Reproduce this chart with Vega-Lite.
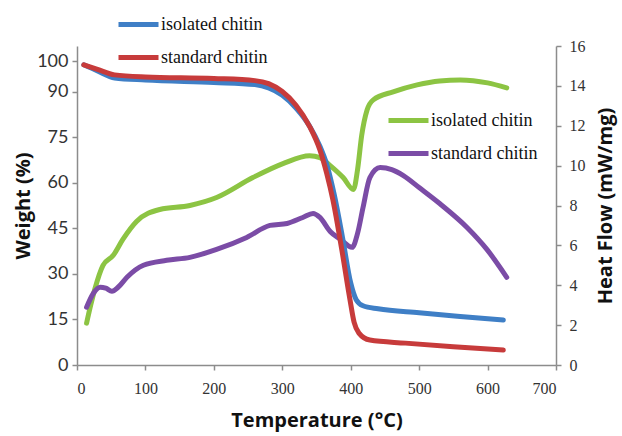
{
  "$schema": "https://vega.github.io/schema/vega-lite/v6.json",
  "width": 479,
  "height": 319,
  "autosize": "none",
  "padding": {"left": 77, "top": 46, "right": 66, "bottom": 71},
  "background": "white",
  "config": {
    "view": {"stroke": null},
    "axis": {"grid": false, "domainColor": "#8c8c8c", "tickColor": "#8c8c8c", "domainWidth": 1.5, "tickWidth": 1.5, "tickSize": 5, "labelColor": "#333333", "titleColor": "#111111", "titleFont": "Open Sans", "titleFontWeight": "bold", "titleFontSize": 20}
  },
  "datasets": {
    "weight": [
      {"series": "isolated chitin", "T": 10, "v": 98.8},
      {"series": "isolated chitin", "T": 30, "v": 96.8},
      {"series": "isolated chitin", "T": 55, "v": 94.5},
      {"series": "isolated chitin", "T": 100, "v": 93.8},
      {"series": "isolated chitin", "T": 200, "v": 93.0},
      {"series": "isolated chitin", "T": 260, "v": 92.3},
      {"series": "isolated chitin", "T": 280, "v": 91.2},
      {"series": "isolated chitin", "T": 300, "v": 88.8},
      {"series": "isolated chitin", "T": 320, "v": 84.6},
      {"series": "isolated chitin", "T": 340, "v": 78.6},
      {"series": "isolated chitin", "T": 355, "v": 72},
      {"series": "isolated chitin", "T": 365, "v": 66},
      {"series": "isolated chitin", "T": 376, "v": 56},
      {"series": "isolated chitin", "T": 388, "v": 42},
      {"series": "isolated chitin", "T": 400, "v": 27},
      {"series": "isolated chitin", "T": 408, "v": 21.5},
      {"series": "isolated chitin", "T": 418, "v": 19.5},
      {"series": "isolated chitin", "T": 440, "v": 18.5},
      {"series": "isolated chitin", "T": 500, "v": 17.2},
      {"series": "isolated chitin", "T": 560, "v": 16},
      {"series": "isolated chitin", "T": 623, "v": 14.8},
      {"series": "standard chitin", "T": 10, "v": 98.8},
      {"series": "standard chitin", "T": 30, "v": 97.3},
      {"series": "standard chitin", "T": 55, "v": 95.5},
      {"series": "standard chitin", "T": 100, "v": 94.8},
      {"series": "standard chitin", "T": 200, "v": 94.3},
      {"series": "standard chitin", "T": 260, "v": 93.6},
      {"series": "standard chitin", "T": 280, "v": 92.6},
      {"series": "standard chitin", "T": 300, "v": 90},
      {"series": "standard chitin", "T": 320, "v": 85.5},
      {"series": "standard chitin", "T": 340, "v": 78.5},
      {"series": "standard chitin", "T": 355, "v": 70.8},
      {"series": "standard chitin", "T": 365, "v": 63},
      {"series": "standard chitin", "T": 374, "v": 54.3},
      {"series": "standard chitin", "T": 387, "v": 37.9},
      {"series": "standard chitin", "T": 399, "v": 21.4},
      {"series": "standard chitin", "T": 405, "v": 14},
      {"series": "standard chitin", "T": 412, "v": 10.5},
      {"series": "standard chitin", "T": 428, "v": 8.2},
      {"series": "standard chitin", "T": 480, "v": 7.2},
      {"series": "standard chitin", "T": 550, "v": 6},
      {"series": "standard chitin", "T": 623, "v": 4.9}
    ],
    "heat": [
      {"series": "isolated chitin", "T": 14, "v": 2.1},
      {"series": "isolated chitin", "T": 20, "v": 3.0},
      {"series": "isolated chitin", "T": 26, "v": 3.8},
      {"series": "isolated chitin", "T": 38, "v": 5.0},
      {"series": "isolated chitin", "T": 53, "v": 5.5},
      {"series": "isolated chitin", "T": 67, "v": 6.3},
      {"series": "isolated chitin", "T": 87, "v": 7.2},
      {"series": "isolated chitin", "T": 121, "v": 7.8},
      {"series": "isolated chitin", "T": 165, "v": 8.0},
      {"series": "isolated chitin", "T": 204, "v": 8.4},
      {"series": "isolated chitin", "T": 257, "v": 9.4},
      {"series": "isolated chitin", "T": 301, "v": 10.1},
      {"series": "isolated chitin", "T": 340, "v": 10.5},
      {"series": "isolated chitin", "T": 355, "v": 10.4},
      {"series": "isolated chitin", "T": 370, "v": 10.0},
      {"series": "isolated chitin", "T": 389, "v": 9.4},
      {"series": "isolated chitin", "T": 404, "v": 8.8},
      {"series": "isolated chitin", "T": 410, "v": 9.8},
      {"series": "isolated chitin", "T": 416, "v": 11.5},
      {"series": "isolated chitin", "T": 424, "v": 12.8},
      {"series": "isolated chitin", "T": 433, "v": 13.3},
      {"series": "isolated chitin", "T": 462, "v": 13.7},
      {"series": "isolated chitin", "T": 497, "v": 14.05},
      {"series": "isolated chitin", "T": 530, "v": 14.25},
      {"series": "isolated chitin", "T": 560, "v": 14.3},
      {"series": "isolated chitin", "T": 600, "v": 14.15},
      {"series": "isolated chitin", "T": 628, "v": 13.9},
      {"series": "standard chitin", "T": 14, "v": 2.9},
      {"series": "standard chitin", "T": 24, "v": 3.6},
      {"series": "standard chitin", "T": 34, "v": 3.9},
      {"series": "standard chitin", "T": 42, "v": 3.85},
      {"series": "standard chitin", "T": 51, "v": 3.7},
      {"series": "standard chitin", "T": 60, "v": 3.9},
      {"series": "standard chitin", "T": 73, "v": 4.4},
      {"series": "standard chitin", "T": 97, "v": 5.0},
      {"series": "standard chitin", "T": 131, "v": 5.25},
      {"series": "standard chitin", "T": 165, "v": 5.4},
      {"series": "standard chitin", "T": 204, "v": 5.8},
      {"series": "standard chitin", "T": 248, "v": 6.4},
      {"series": "standard chitin", "T": 282, "v": 7.0},
      {"series": "standard chitin", "T": 307, "v": 7.1},
      {"series": "standard chitin", "T": 330, "v": 7.4},
      {"series": "standard chitin", "T": 345, "v": 7.6},
      {"series": "standard chitin", "T": 355, "v": 7.4},
      {"series": "standard chitin", "T": 370, "v": 6.7},
      {"series": "standard chitin", "T": 385, "v": 6.3},
      {"series": "standard chitin", "T": 402, "v": 5.9},
      {"series": "standard chitin", "T": 410, "v": 6.6},
      {"series": "standard chitin", "T": 418, "v": 7.9},
      {"series": "standard chitin", "T": 428, "v": 9.4},
      {"series": "standard chitin", "T": 443, "v": 9.9},
      {"series": "standard chitin", "T": 460, "v": 9.8},
      {"series": "standard chitin", "T": 477, "v": 9.5},
      {"series": "standard chitin", "T": 500, "v": 8.9},
      {"series": "standard chitin", "T": 530, "v": 8.1},
      {"series": "standard chitin", "T": 570, "v": 6.9},
      {"series": "standard chitin", "T": 599, "v": 5.8},
      {"series": "standard chitin", "T": 628, "v": 4.4}
    ]
  },
  "layer": [
    {
      "data": {"name": "heat"},
      "mark": {"type": "line", "strokeWidth": 5, "interpolate": "monotone", "strokeCap": "round"},
      "encoding": {
        "x": {"field": "T", "type": "quantitative", "scale": {"domain": [0, 700]},
          "axis": {"values": [0, 100, 200, 300, 400, 500, 600, 700], "title": "Temperature (°C)", "labelFont": "Liberation Serif", "labelFontSize": 16, "labelPadding": 10, "titlePadding": 14}},
        "y": {"field": "v", "type": "quantitative", "scale": {"domain": [0, 16]},
          "axis": {"orient": "right", "values": [0, 2, 4, 6, 8, 10, 12, 14, 16], "title": "Heat Flow (mW/mg)", "titleAngle": -90, "titleBaseline": "top", "labelFont": "Liberation Serif", "labelFontSize": 16, "labelPadding": 8, "titlePadding": 10}},
        "color": {"field": "series", "type": "nominal",
          "scale": {"domain": ["isolated chitin", "standard chitin"], "range": ["#8cc443", "#7b4ca6"]},
          "legend": {"title": null, "orient": "none", "legendX": 309, "legendY": 58, "symbolType": "stroke", "symbolSize": 1600, "symbolStrokeWidth": 5, "labelFont": "Liberation Serif", "labelFontSize": 18, "labelColor": "#111111", "labelOffset": 0, "rowPadding": 0, "clipHeight": 33}}
      }
    },
    {
      "data": {"name": "weight"},
      "mark": {"type": "line", "strokeWidth": 5, "interpolate": "monotone", "strokeCap": "round"},
      "encoding": {
        "x": {"field": "T", "type": "quantitative"},
        "y": {"field": "v", "type": "quantitative", "scale": {"domain": [0, 105]},
          "axis": {"orient": "left", "values": [0, 15, 30, 45, 60, 75, 90, 100], "title": "Weight (%)", "labelFont": "Lato", "labelFontSize": 18, "labelPadding": 4, "titlePadding": 3}},
        "color": {"field": "series", "type": "nominal",
          "scale": {"domain": ["isolated chitin", "standard chitin"], "range": ["#3f7fc6", "#c73b3b"]},
          "legend": {"title": null, "orient": "none", "legendX": 39, "legendY": -38, "symbolType": "stroke", "symbolSize": 1600, "symbolStrokeWidth": 5, "labelFont": "Liberation Serif", "labelFontSize": 18, "labelColor": "#111111", "labelOffset": 0, "rowPadding": 0, "clipHeight": 33}}
      }
    }
  ],
  "resolve": {"scale": {"y": "independent", "color": "independent"}}
}
